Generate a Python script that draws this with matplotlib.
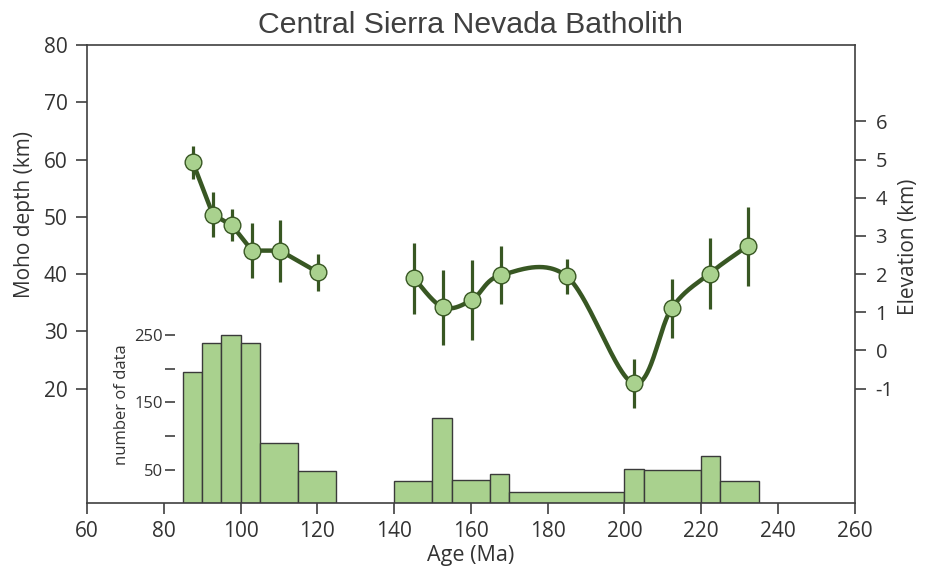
import numpy as np
import matplotlib
matplotlib.use("Agg")
import matplotlib.pyplot as plt

plt.rcParams['font.family'] = ['Open Sans', 'DejaVu Sans']

# Moho depth estimates (km) with 1-sigma errors, two age groups
age_a = [87.6, 92.8, 97.8, 103.0, 110.3, 120.2]
moho_a = [59.5, 50.4, 48.5, 44.1, 44.1, 40.3]
err_a = [2.9, 3.9, 2.8, 4.8, 5.4, 3.2]

age_b = [145.2, 152.7, 160.3, 167.8, 185.0, 202.4, 212.3, 222.2, 232.1]
moho_b = [39.3, 34.2, 35.5, 39.8, 39.6, 20.9, 34.0, 40.1, 44.9]
err_b = [6.2, 6.6, 7.0, 5.1, 3.1, 4.3, 5.2, 6.2, 6.9]

# Histogram of zircon ages: bin edges (Ma) and counts
bins_a = [85, 90, 95, 100, 105, 115, 125]
counts_a = [195, 239, 251, 239, 90, 48]
bins_b = [140, 150, 155, 165, 170, 200, 205, 220, 225, 235]
counts_b = [33, 127, 34, 43, 16, 51, 50, 70, 33]

x_ticks = [60, 80, 100, 120, 140, 160, 180, 200, 220, 240, 260]
moho_ticks = [20, 30, 40, 50, 60, 70, 80]
elev_ticks = [-1, 0, 1, 2, 3, 4, 5, 6]
count_ticks = [50, 150, 250]
count_minor = [100, 200]

LINE = '#385723'
FILL = '#a9d18e'
TXT = '#333333'
SPINE = '#404040'


def smooth_curve(x, y, n=60):
    """Piecewise cubic Bezier through the points (Catmull-Rom style tangents)."""
    P = np.column_stack([x, y]).astype(float)
    out = []
    for i in range(len(P) - 1):
        p_prev = P[i - 1] if i > 0 else P[i]
        p_next = P[i + 2] if i + 2 < len(P) else P[i + 1]
        c1 = P[i] + (P[i + 1] - p_prev) / 6.0
        c2 = P[i + 1] - (p_next - P[i]) / 6.0
        t = np.linspace(0, 1, n)[:, None]
        seg = ((1 - t) ** 3 * P[i] + 3 * (1 - t) ** 2 * t * c1
               + 3 * (1 - t) * t ** 2 * c2 + t ** 3 * P[i + 1])
        out.append(seg if i == 0 else seg[1:])
    out = np.vstack(out)
    return out[:, 0], out[:, 1]


fig = plt.figure(figsize=(9.25, 5.71), dpi=100)
rect = [0.094, 0.119, 0.830, 0.802]

# Histogram axes (underneath)
ax_h = fig.add_axes(rect)
for edges, counts in ((bins_a, counts_a), (bins_b, counts_b)):
    edges = np.asarray(edges, float)
    ax_h.bar(edges[:-1], counts, width=np.diff(edges), align='edge',
             color=FILL, edgecolor='#3a3a3a', linewidth=1.0)
ax_h.set_xlim(60, 260)
ax_h.set_ylim(0, 683)
for s in ('top', 'right', 'bottom'):
    ax_h.spines[s].set_visible(False)
ax_h.spines['left'].set_position(('data', 83))
ax_h.spines['left'].set_color('none')
ax_h.set_yticks(count_ticks)
ax_h.set_yticks(count_minor, minor=True)
ax_h.tick_params(axis='y', which='both', direction='out', length=7, width=1.2,
                 color=SPINE, labelsize=12, labelcolor=TXT, pad=2)
ax_h.tick_params(axis='x', bottom=False, labelbottom=False)
ax_h.set_ylabel('number of data', fontsize=12, color=TXT)
ax_h.yaxis.set_label_coords(0.056, 0.215)

# Main Moho depth axes
ax = fig.add_axes(rect, sharex=ax_h)
ax.patch.set_visible(False)
ax.set_xlim(60, 260)
ax.set_ylim(0, 80)

ax.errorbar(age_a, moho_a, yerr=err_a, fmt='none', ecolor=LINE, elinewidth=2.3,
            capsize=0, zorder=3)
ax.plot(age_a, moho_a, color=LINE, lw=3.2, zorder=4, solid_capstyle='round')
ax.plot(age_a, moho_a, 'o', ms=12, mfc=FILL, mec=LINE, mew=1.0, zorder=5)

sx, sy = smooth_curve(age_b, moho_b)
ax.errorbar(age_b, moho_b, yerr=err_b, fmt='none', ecolor=LINE, elinewidth=2.3,
            capsize=0, zorder=3)
ax.plot(sx, sy, color=LINE, lw=3.2, zorder=4, solid_capstyle='round')
ax.plot(age_b, moho_b, 'o', ms=12, mfc=FILL, mec=LINE, mew=1.0, zorder=5)

ax.set_xticks(x_ticks)
ax.set_yticks(moho_ticks)
ax.tick_params(axis='both', direction='out', length=8, width=1.2, color=SPINE,
               labelsize=15, labelcolor=TXT)
ax.tick_params(axis='y', pad=6)
ax.tick_params(axis='x', pad=5)
for s in ax.spines.values():
    s.set_color(SPINE)
    s.set_linewidth(1.2)
ax.set_xlabel('Age (Ma)', fontsize=15.5, color=TXT, labelpad=2)
ax.set_ylabel('Moho depth (km)', fontsize=15, color=TXT)
ax.yaxis.set_label_coords(-0.068, 0.63)
ax.set_title('Central Sierra Nevada Batholith', fontsize=21.8, color='#404040',
             family=['Liberation Sans', 'DejaVu Sans'], pad=9)

# Paleo-elevation axis
ax_r = ax.twinx()
ax_r.set_ylim(-4, 8)
ax_r.set_yticks(elev_ticks)
ax_r.set_yticklabels([str(v) for v in elev_ticks])
ax_r.tick_params(axis='y', direction='out', length=8, width=1.2, color=SPINE,
                 labelsize=14.5, labelcolor=TXT, pad=7)
for s in ax_r.spines.values():
    s.set_visible(False)
ax_r.set_ylabel('Elevation (km)', fontsize=15, color=TXT)
ax_r.yaxis.set_label_coords(1.057, 0.56)

fig.savefig('out.png', dpi=100)
